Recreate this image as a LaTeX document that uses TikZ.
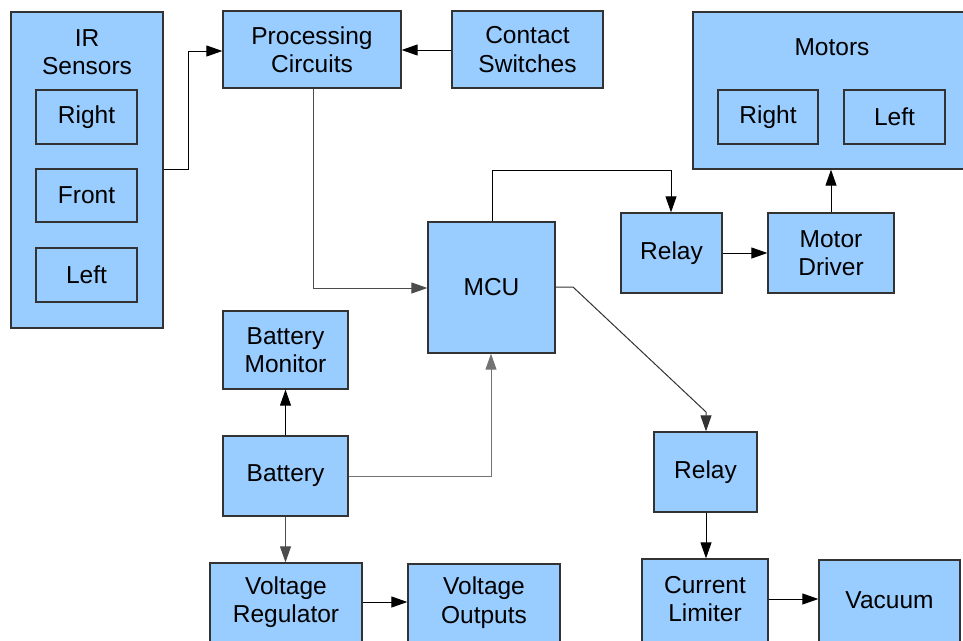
\documentclass[tikz,border=0pt]{standalone}
\usepackage{fontspec}
\setmainfont{Liberation Sans}
\usetikzlibrary{arrows.meta}
\definecolor{boxfill}{HTML}{99CCFF}
\definecolor{boxline}{HTML}{333333}
\begin{document}
\begin{tikzpicture}[x=1pt,y=-1pt,
  box/.style={draw=boxline, fill=boxfill, line width=1.3pt, inner sep=0pt, align=center,
    font=\fontsize{24.5}{28.5}\selectfont},
  lbl/.style={inner sep=0pt, align=center, font=\fontsize{24.5}{28.5}\selectfont},
  conn/.style={draw=black, line width=1pt, -{Triangle[length=16pt,width=11pt]}},
  grayconn/.style={conn, draw=black!55}]
\useasboundingbox (0,0) rectangle (963,640);
% IR sensors
\node[box, minimum width=152pt, minimum height=316pt] (ir) at (87,170) {};
\node[lbl] (irlbl) at (87,52) {IR\\Sensors};
\node[box, minimum width=101pt, minimum height=54pt] (irR) at (86.5,117) {Right};
\node[box, minimum width=101pt, minimum height=53pt] (irF) at (86.5,195.5) {Front};
\node[box, minimum width=101pt, minimum height=54pt] (irL) at (86.5,275) {Left};
% top row
\node[box, minimum width=178pt, minimum height=77pt] (proc) at (312,49.5) {Processing\\Circuits};
\node[box, minimum width=151pt, minimum height=77pt] (cont) at (527.5,49.5) {Contact\\Switches};
% motors
\node[box, minimum width=278pt, minimum height=157pt] (mot) at (832,90.5) {};
\node[lbl] (motlbl) at (832,47) {Motors};
\node[box, minimum width=100pt, minimum height=54pt] (motR) at (768,117) {Right};
\node[box, minimum width=101pt, minimum height=54pt] (motL) at (894.5,117) {Left};
% middle
\node[box, minimum width=127pt, minimum height=131pt] (mcu) at (491.5,287.5) {MCU};
\node[box, minimum width=101pt, minimum height=80pt] (relay1) at (671.5,253) {Relay};
\node[box, minimum width=126pt, minimum height=80pt] (drv) at (831,253) {Motor\\Driver};
% battery side
\node[box, minimum width=125pt, minimum height=78pt] (bmon) at (285.5,350) {Battery\\Monitor};
\node[box, minimum width=125pt, minimum height=80pt] (bat) at (285.5,476) {Battery};
\node[box, minimum width=152pt, minimum height=90pt] (vreg) at (286,608) {};
\node[lbl] (vregt) at (286,602) {Voltage\\Regulator};
\node[box, minimum width=152pt, minimum height=90pt] (vout) at (484,609) {};
\node[lbl] (voutt) at (484,602.5) {Voltage\\Outputs};
% vacuum side
\node[box, minimum width=103pt, minimum height=80pt] (relay2) at (705.5,472) {Relay};
\node[box, minimum width=126pt, minimum height=90pt] (lim) at (705,604) {};
\node[lbl] (limt) at (705,599) {Current\\Limiter};
\node[box, minimum width=141pt, minimum height=90pt] (vac) at (889.5,605) {};
\node[lbl] (vact) at (889.5,600.5) {Vacuum};
% connectors
\coordinate (c1) at (188,169);
\coordinate (c2) at (188,51);
\draw[conn] (ir.east |- c1) -- (c1) -- (c2) -- (proc.west |- c2);
\draw[conn] (cont.west |- 0,50) -- (proc.east |- 0,50);
\coordinate (c3) at (313,288);
\draw[grayconn, draw=black!70] (proc.south -| c3) -- (c3) -- (mcu.west |- c3);
\coordinate (c4) at (492,170);
\coordinate (c5) at (671,170);
\draw[conn] (mcu.north -| c4) -- (c4) -- (c5) -- (relay1.north -| c5);
\draw[conn] (relay1.east) -- (drv.west);
\draw[conn] (drv.north) -- (mot.south -| drv.north);
\draw[conn] (bat.north) -- (bmon.south);
\coordinate (c6) at (491,476);
\draw[grayconn] (bat.east) -- (c6) -- (mcu.south -| c6);
\draw[grayconn, draw=black!70] (bat.south) -- (vreg.north -| bat.south);
\draw[conn] (vreg.east |- 0,602) -- (vout.west |- 0,602);
\coordinate (c7) at (573,287);
\coordinate (c8) at (706,412);
\draw[conn, draw=black!80] (mcu.east |- c7) -- (c7) -- (c8) -- (relay2.north -| c8);
\draw[conn] (relay2.south -| 706,0) -- (lim.north -| 706,0);
\draw[conn] (lim.east |- 0,599) -- (vac.west |- 0,599);
\end{tikzpicture}
\end{document}
